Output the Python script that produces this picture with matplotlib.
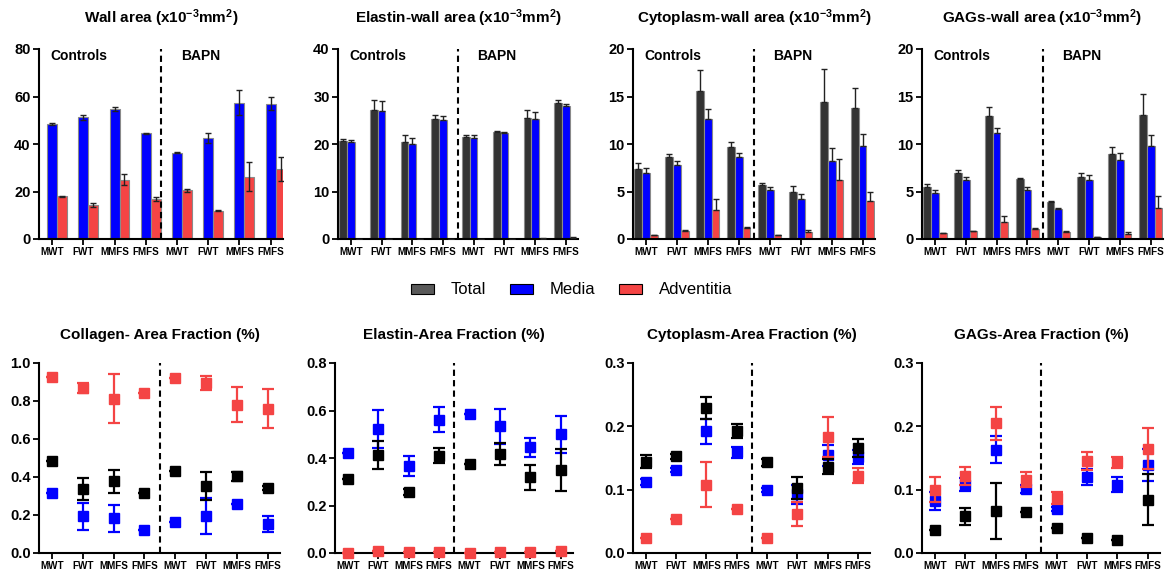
import matplotlib
matplotlib.use("Agg")
import matplotlib.pyplot as plt
from matplotlib.patches import Patch
import numpy as np

plt.rcParams['font.family'] = ['Liberation Sans', 'DejaVu Sans']
plt.rcParams['font.weight'] = 'bold'
plt.rcParams['mathtext.fontset'] = 'custom'
plt.rcParams['mathtext.rm'] = 'Liberation Sans:bold'
plt.rcParams['mathtext.bf'] = 'Liberation Sans:bold'
plt.rcParams['mathtext.it'] = 'Liberation Sans:bold'
plt.rcParams['mathtext.default'] = 'rm'

categories = ['MWT', 'FWT', 'MMFS', 'FMFS', 'MWT', 'FWT', 'MMFS', 'FMFS']
series_names = ['Total', 'Media', 'Adventitia']

# ---- Wall area (x10^-3 mm^2) ----
wall_media = [48.4, 51.3, 54.6, 44.6, 36.4, 42.5, 57.4, 56.9]
wall_media_err = [0.3, 1.0, 0.8, 0.2, 0.1, 2.2, 5.3, 2.7]
wall_adv = [17.9, 14.2, 25.0, 16.8, 20.5, 11.9, 26.3, 29.4]
wall_adv_err = [0.3, 0.8, 2.3, 0.8, 0.6, 0.3, 6.0, 5.0]

# ---- Elastin-wall area ----
el_total = [20.7, 27.2, 20.5, 25.2, 21.5, 22.5, 25.5, 28.6]
el_total_err = [0.4, 2.1, 1.3, 1.0, 0.5, 0.2, 1.7, 0.6]
el_media = [20.5, 27.0, 20.1, 25.0, 21.3, 22.4, 25.3, 28.0]
el_media_err = [0.4, 2.1, 1.2, 1.0, 0.6, 0.1, 1.5, 0.5]
el_adv = [0.0, 0.0, 0.0, 0.0, 0.0, 0.0, 0.1, 0.3]
el_adv_err = [0.0, 0.0, 0.0, 0.0, 0.0, 0.0, 0.05, 0.2]

# ---- Cytoplasm-wall area ----
cy_total = [7.4, 8.6, 15.6, 9.7, 5.7, 4.9, 14.4, 13.8]
cy_total_err = [0.6, 0.4, 2.2, 0.5, 0.2, 0.7, 3.5, 2.1]
cy_media = [7.0, 7.8, 12.6, 8.6, 5.2, 4.2, 8.2, 9.8]
cy_media_err = [0.5, 0.4, 1.1, 0.5, 0.3, 0.5, 1.4, 1.3]
cy_adv = [0.4, 0.8, 3.1, 1.2, 0.4, 0.7, 6.2, 4.0]
cy_adv_err = [0.05, 0.1, 1.1, 0.05, 0.05, 0.2, 2.2, 1.0]

# ---- GAGs-wall area ----
gg_total = [5.5, 7.0, 13.0, 6.3, 3.9, 6.5, 8.9, 13.1]
gg_total_err = [0.3, 0.3, 0.9, 0.15, 0.15, 0.5, 0.8, 2.2]
gg_media = [4.8, 6.2, 11.2, 5.2, 3.2, 6.2, 8.3, 9.8]
gg_media_err = [0.4, 0.3, 0.5, 0.25, 0.05, 0.5, 0.8, 1.2]
gg_adv = [0.6, 0.8, 1.8, 1.1, 0.75, 0.2, 0.5, 3.3]
gg_adv_err = [0.05, 0.05, 0.6, 0.03, 0.05, 0.05, 0.2, 1.2]

# ---- Collagen area fraction ----
co_total = [0.484, 0.337, 0.377, 0.316, 0.432, 0.353, 0.404, 0.342]
co_total_err = [0.0, 0.056, 0.062, 0.0, 0.0, 0.072, 0.023, 0.012]
co_media = [0.316, 0.193, 0.183, 0.119, 0.161, 0.197, 0.260, 0.153]
co_media_err = [0.0, 0.070, 0.072, 0.0, 0.0, 0.095, 0.0, 0.043]
co_adv = [0.925, 0.868, 0.812, 0.843, 0.920, 0.895, 0.780, 0.760]
co_adv_err = [0.0, 0.027, 0.130, 0.0, 0.0, 0.037, 0.092, 0.103]

# ---- Elastin area fraction ----
ef_total = [0.311, 0.412, 0.258, 0.409, 0.376, 0.417, 0.318, 0.350]
ef_total_err = [0.0, 0.060, 0.012, 0.032, 0.0, 0.046, 0.053, 0.088]
ef_media = [0.423, 0.523, 0.368, 0.561, 0.587, 0.533, 0.445, 0.500]
ef_media_err = [0.0, 0.080, 0.042, 0.053, 0.0, 0.072, 0.040, 0.077]
ef_adv = [0.002, 0.008, 0.005, 0.005, 0.002, 0.005, 0.005, 0.010]
ef_adv_err = [0.0, 0.0, 0.0, 0.0, 0.0, 0.0, 0.0, 0.0]

# ---- Cytoplasm area fraction ----
cf_total = [0.144, 0.153, 0.229, 0.192, 0.143, 0.103, 0.136, 0.166]
cf_total_err = [0.010, 0.004, 0.017, 0.011, 0.005, 0.017, 0.012, 0.014]
cf_media = [0.112, 0.131, 0.192, 0.159, 0.099, 0.093, 0.154, 0.152]
cf_media_err = [0.005, 0.003, 0.020, 0.009, 0.003, 0.015, 0.017, 0.011]
cf_adv = [0.024, 0.054, 0.108, 0.070, 0.023, 0.062, 0.183, 0.122]
cf_adv_err = [0.0, 0.0, 0.036, 0.0, 0.0, 0.019, 0.031, 0.012]

# ---- GAGs area fraction ----
gf_total = [0.037, 0.058, 0.066, 0.065, 0.039, 0.023, 0.021, 0.084]
gf_total_err = [0.0, 0.013, 0.044, 0.0, 0.0, 0.0, 0.0, 0.040]
gf_media = [0.082, 0.108, 0.163, 0.101, 0.069, 0.120, 0.108, 0.139]
gf_media_err = [0.014, 0.010, 0.021, 0.007, 0.003, 0.013, 0.012, 0.025]
gf_adv = [0.100, 0.122, 0.205, 0.116, 0.087, 0.145, 0.143, 0.165]
gf_adv_err = [0.020, 0.014, 0.026, 0.012, 0.009, 0.014, 0.009, 0.032]

C_TOTAL_BAR = '#333333'
C_TOTAL_LEG = '#595959'
C_TOTAL_PT = '#000000'
C_MEDIA = '#0000ff'
C_ADV = '#f44444'
EDGE = '#8a8a8a'

W, H = 1169, 573
fig = plt.figure(figsize=(W / 100, H / 100), dpi=100)

def px_axes(l, r, t, b):
    return fig.add_axes([l / W, 1 - b / H, (r - l) / W, (b - t) / H])

x = np.arange(len(categories))

def style(ax, ymax, step, fmt, title, pad):
    for s in ['top', 'right']:
        ax.spines[s].set_visible(False)
    for s in ['left', 'bottom']:
        ax.spines[s].set_linewidth(1.5)
    ax.set_ylim(0, ymax)
    ax.set_xlim(-0.42, 7.4)
    ticks = np.arange(0, ymax + step / 2, step)
    ax.set_yticks(ticks)
    ax.set_yticklabels([fmt.format(t) for t in ticks], fontsize=10.5, fontweight='bold')
    ax.set_xticks(x)
    ax.set_xticklabels(categories, fontsize=7.1, fontweight='bold')
    ax.tick_params(axis='both', direction='out', length=4, width=1.3, pad=2)
    ax.axvline(3.5, color='black', linestyle=(0, (3, 2)), linewidth=1.5)
    ax.set_title(title, fontsize=11, fontweight='bold', pad=pad)

def bars(ax, vals, errs, offset, width, color, both=False):
    ax.bar(x + offset, vals, width, color=color, edgecolor=EDGE, linewidth=0.8, zorder=2)
    e = np.array(errs)
    yerr = [e, e] if both else [np.zeros_like(e), e]
    ax.errorbar(x + offset, vals, yerr=yerr, fmt='none', ecolor='#222222',
                elinewidth=1.0, capsize=2.5, capthick=1.0, zorder=3)

def group_labels(ax, ymax):
    ax.text(-0.05, ymax * 0.965, 'Controls', fontsize=10, fontweight='bold', va='center', ha='left')
    ax.text(4.75, ymax * 0.965, 'BAPN', fontsize=10, fontweight='bold', va='center', ha='center')

# ---------- top row ----------
ax1 = px_axes(39, 283, 49, 239)
bars(ax1, wall_media, wall_media_err, 0.0, 0.32, C_MEDIA, both=True)
bars(ax1, wall_adv, wall_adv_err, 0.32, 0.32, C_ADV, both=True)
style(ax1, 80, 20, '{:.0f}', r'Wall area (x10$^{-3}$mm$^{2}$)', 19)
group_labels(ax1, 80)

top_sets = [
    ((338, 578), (el_total, el_total_err, el_media, el_media_err, el_adv, el_adv_err), 40, 10,
     r'Elastin-wall area (x10$^{-3}$mm$^{2}$)'),
    ((633, 875), (cy_total, cy_total_err, cy_media, cy_media_err, cy_adv, cy_adv_err), 20, 5,
     r'Cytoplasm-wall area (x10$^{-3}$mm$^{2}$)'),
    ((922, 1163), (gg_total, gg_total_err, gg_media, gg_media_err, gg_adv, gg_adv_err), 20, 5,
     r'GAGs-wall area (x10$^{-3}$mm$^{2}$)'),
]
bw = 0.25
for (l, r), (t, te, m, me, a, ae), ymax, step, title in top_sets:
    ax = px_axes(l, r, 49, 239)
    bars(ax, t, te, -bw, bw, C_TOTAL_BAR)
    bars(ax, m, me, 0.0, bw, C_MEDIA)
    bars(ax, a, ae, bw, bw, C_ADV)
    style(ax, ymax, step, '{:.0f}', title, 19)
    group_labels(ax, ymax)

# ---------- legend ----------
handles = [Patch(facecolor=C_TOTAL_LEG, edgecolor='black', linewidth=0.8),
           Patch(facecolor=C_MEDIA, edgecolor='black', linewidth=0.8),
           Patch(facecolor=C_ADV, edgecolor='black', linewidth=0.8)]
leg = fig.legend(handles, series_names, loc='center', bbox_to_anchor=(0.489, 0.494), ncol=3,
                 frameon=False, prop={'size': 12, 'weight': 'normal'},
                 handlelength=1.4, handleheight=0.55, handletextpad=1.0, columnspacing=1.4)

# ---------- bottom row ----------
bottom_sets = [
    ((39, 280), (co_total, co_total_err, co_media, co_media_err, co_adv, co_adv_err), 1.0, 0.2,
     'Collagen- Area Fraction (%)'),
    ((335, 573), (ef_total, ef_total_err, ef_media, ef_media_err, ef_adv, ef_adv_err), 0.8, 0.2,
     'Elastin-Area Fraction (%)'),
    ((633, 870), (cf_total, cf_total_err, cf_media, cf_media_err, cf_adv, cf_adv_err), 0.3, 0.1,
     'Cytoplasm-Area Fraction (%)'),
    ((922, 1160), (gf_total, gf_total_err, gf_media, gf_media_err, gf_adv, gf_adv_err), 0.3, 0.1,
     'GAGs-Area Fraction (%)'),
]
for (l, r), (t, te, m, me, a, ae), ymax, step, title in bottom_sets:
    ax = px_axes(l, r, 363, 553)
    for vals, errs, col, z in [(m, me, C_MEDIA, 3), (a, ae, C_ADV, 4), (t, te, C_TOTAL_PT, 5)]:
        ax.errorbar(x, vals, yerr=errs, fmt='s', color=col, markersize=6.5,
                    elinewidth=1.6, capsize=4.5, capthick=1.6, zorder=z, clip_on=False)
    style(ax, ymax, step, '{:.1f}', title, 17)

fig.savefig('out.png', dpi=100)
